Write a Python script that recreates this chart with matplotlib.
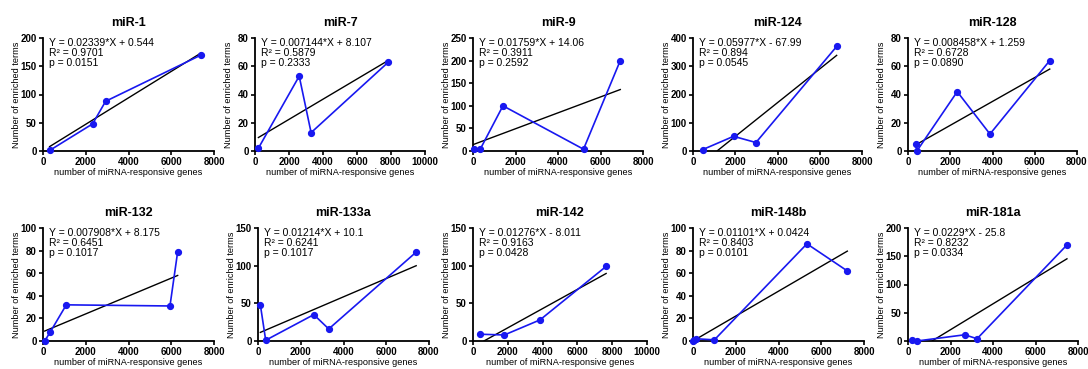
import matplotlib
matplotlib.use("Agg")
import matplotlib.pyplot as plt
import numpy as np

plt.rcParams['font.family'] = ['Liberation Sans', 'DejaVu Sans']

titles = ["miR-1", "miR-7", "miR-9", "miR-124", "miR-128",
          "miR-132", "miR-133a", "miR-142", "miR-148b", "miR-181a"]

x_mir1 = [310, 2320, 2930, 7400]
y_mir1 = [1, 48, 88, 170]
x_mir7 = [200, 2600, 3300, 7850]
y_mir7 = [2, 53, 13, 63]
x_mir9 = [30, 340, 1410, 5200, 6930]
y_mir9 = [4, 4, 100, 4, 200]
x_mir124 = [460, 1920, 2980, 6800]
y_mir124 = [5, 52, 30, 370]
x_mir128 = [360, 420, 2330, 3880, 6710]
y_mir128 = [5, 0, 42, 12, 64]
x_mir132 = [80, 340, 1090, 5940, 6300]
y_mir132 = [0, 8, 32, 31, 79]
x_mir133a = [110, 360, 2610, 3310, 7400]
y_mir133a = [48, 1, 35, 16, 118]
x_mir142 = [380, 1800, 3850, 7650]
y_mir142 = [9, 8, 28, 99]
x_mir148b = [10, 60, 130, 1000, 5330, 7220]
y_mir148b = [0, 1, 2, 1, 86, 62]
x_mir181a = [200, 420, 2670, 3250, 7480]
y_mir181a = [2, 0, 11, 4, 170]

xs = [x_mir1, x_mir7, x_mir9, x_mir124, x_mir128,
      x_mir132, x_mir133a, x_mir142, x_mir148b, x_mir181a]
ys = [y_mir1, y_mir7, y_mir9, y_mir124, y_mir128,
      y_mir132, y_mir133a, y_mir142, y_mir148b, y_mir181a]

slopes = [0.02339, 0.007144, 0.01759, 0.05977, 0.008458,
          0.007908, 0.01214, 0.01276, 0.01101, 0.0229]
intercepts = [0.544, 8.107, 14.06, -67.99, 1.259,
              8.175, 10.1, -8.011, 0.0424, -25.8]
eq_texts = ["Y = 0.02339*X + 0.544", "Y = 0.007144*X + 8.107", "Y = 0.01759*X + 14.06",
            "Y = 0.05977*X - 67.99", "Y = 0.008458*X + 1.259",
            "Y = 0.007908*X + 8.175", "Y = 0.01214*X + 10.1", "Y = 0.01276*X - 8.011",
            "Y = 0.01101*X + 0.0424", "Y = 0.0229*X - 25.8"]
r2_texts = ["0.9701", "0.5879", "0.3911", "0.894", "0.6728",
            "0.6451", "0.6241", "0.9163", "0.8403", "0.8232"]
p_texts = ["0.0151", "0.2333", "0.2592", "0.0545", "0.0890",
           "0.1017", "0.1017", "0.0428", "0.0101", "0.0334"]

ymaxs = [200, 80, 250, 400, 80, 100, 150, 150, 100, 200]
ysteps = [50, 20, 50, 100, 20, 20, 50, 50, 20, 50]
xmaxs = [8000, 10000, 8000, 8000, 8000, 8000, 8000, 10000, 8000, 8000]

xlabel = "number of miRNA-responsive genes"
ylabel = "Number of enriched terms"

W, H = 1088, 369
fig = plt.figure(figsize=(W / 100, H / 100), dpi=100)

# pixel boxes (left, right) per panel; rows top/bottom
cols_row1 = [(43, 214), (255, 425), (473, 643), (693, 862), (908, 1077)]
cols_row2 = [(43, 214), (258, 429), (473, 647), (693, 864), (908, 1078)]
rows = [(38, 151), (228, 341)]

for i in range(10):
    r = i // 5
    c = i % 5
    l, rr = (cols_row1 if r == 0 else cols_row2)[c]
    t, b = rows[r]
    wpx, hpx = rr - l, b - t
    ax = fig.add_axes([l / W, 1 - b / H, wpx / W, hpx / H])
    x = np.array(xs[i], dtype=float)
    y = np.array(ys[i], dtype=float)
    order = np.argsort(x)
    ax.plot(x[order], y[order], color='#1818f0', lw=1.2, marker='o', ms=4.2,
            zorder=3, clip_on=False)
    xl = np.linspace(x.min(), x.max(), 200)
    yl = slopes[i] * xl + intercepts[i]
    m = yl >= 0
    ax.plot(xl[m], yl[m], color='black', lw=1.0, zorder=2)
    ax.set_xlim(0, xmaxs[i])
    ax.set_ylim(0, ymaxs[i])
    ax.set_xticks(np.arange(0, xmaxs[i] + 1, 2000))
    ax.set_yticks(np.arange(0, ymaxs[i] + 1, ysteps[i]))
    for s in ['top', 'right']:
        ax.spines[s].set_visible(False)
    for s in ['left', 'bottom']:
        ax.spines[s].set_linewidth(1.3)
    ax.tick_params(direction='out', length=3, width=1.2, labelsize=7, pad=1.5)
    for lab in ax.get_xticklabels() + ax.get_yticklabels():
        lab.set_fontweight('bold')
    ax.set_title(titles[i], fontsize=9, fontweight='bold', pad=9)
    ax.set_xlabel(xlabel, fontsize=6.6)
    ax.set_ylabel(ylabel, fontsize=6.6)
    ax.xaxis.set_label_coords(0.5, -17.0 / hpx)
    ax.yaxis.set_label_coords(-22.0 / wpx, 0.5)
    txt = eq_texts[i] + "\nR\u00b2 = " + r2_texts[i] + "\np = " + p_texts[i]
    ax.text(0.035, 1.0, txt, transform=ax.transAxes, ha='left', va='top',
            fontsize=7.5, linespacing=1.02)

fig.savefig("out.png", dpi=100)
